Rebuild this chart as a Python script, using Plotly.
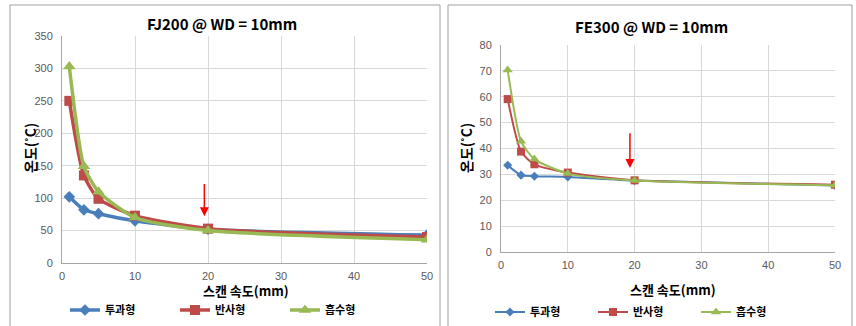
import plotly.graph_objects as go

speeds = [1, 3, 5, 10, 20, 50]
series_names = ["투과형", "반사형", "흡수형"]

fj200_trans = [102, 82, 76, 65, 52, 43]
fj200_refl = [250, 135, 99, 73, 53, 40]
fj200_abs = [303, 149, 110, 70, 50, 36]

fe300_trans = [33.5, 29.7, 29.3, 29.0, 27.6, 25.7]
fe300_refl = [59.1, 38.8, 33.9, 30.7, 27.7, 26.0]
fe300_abs = [70.3, 42.8, 35.9, 30.3, 27.6, 25.8]

colors = ["#4A7EBB", "#BE4B48", "#98B954"]
symbols = ["diamond", "square", "triangle-up"]

W, H = 856, 326
FONT = "Noto Sans CJK KR"

def px(x):
    return x / W

def py(y):
    return 1 - y / H

fig = go.Figure()

left = [fj200_trans, fj200_refl, fj200_abs]
right = [fe300_trans, fe300_refl, fe300_abs]
lsizes = [9, 10, 11]
rsizes = [7, 8, 9]
for i, name in enumerate(series_names):
    fig.add_trace(go.Scatter(
        x=speeds, y=left[i], name=name, mode="lines+markers",
        line=dict(color=colors[i], width=3.5, shape="spline", smoothing=0.6),
        marker=dict(symbol=symbols[i], size=lsizes[i], color=colors[i]),
        xaxis="x", yaxis="y", legend="legend"))
for i, name in enumerate(series_names):
    fig.add_trace(go.Scatter(
        x=speeds, y=right[i], name=name, mode="lines+markers",
        line=dict(color=colors[i], width=2, shape="spline", smoothing=0.6),
        marker=dict(symbol=symbols[i], size=rsizes[i], color=colors[i]),
        xaxis="x2", yaxis="y2", legend="legend2"))

grid = "#D9D9D9"
axfont = dict(family="Liberation Sans", size=11, color="#595959")
common_x = dict(range=[0, 50], dtick=10, showgrid=True, gridcolor=grid, gridwidth=1,
                showline=True, linecolor="#A6A6A6", zeroline=False, ticks="",
                tickfont=axfont, fixedrange=True, ticklabelstandoff=3)
common_y = dict(showgrid=True, gridcolor=grid, gridwidth=1, showline=True,
                linecolor="#A6A6A6", zeroline=False, ticks="", tickfont=axfont,
                fixedrange=True, ticklabelstandoff=6)

fig.update_layout(
    width=W, height=H, margin=dict(l=0, r=0, t=0, b=0, autoexpand=False),
    paper_bgcolor="white", plot_bgcolor="white",
    font=dict(family=FONT),
    xaxis=dict(domain=[px(62), px(427)], anchor="y", **common_x),
    yaxis=dict(domain=[py(263), py(36)], anchor="x", range=[0, 350], dtick=50, **common_y),
    xaxis2=dict(domain=[px(501), px(835)], anchor="y2", **common_x),
    yaxis2=dict(domain=[py(252), py(45)], anchor="x2", range=[0, 80], dtick=10, **common_y),
    legend=dict(orientation="h", x=px(65), y=py(310), xanchor="left", yanchor="middle",
                font=dict(family=FONT, size=11, color="#000000", weight="bold"),
                entrywidth=65, itemwidth=30, bgcolor="rgba(0,0,0,0)"),
    legend2=dict(orientation="h", x=px(490), y=py(312), xanchor="left", yanchor="middle",
                 font=dict(family=FONT, size=11, color="#000000", weight="bold"),
                 entrywidth=58, itemwidth=30, bgcolor="rgba(0,0,0,0)"),
    showlegend=True,
)

# chart borders
fig.add_shape(type="rect", xref="paper", yref="paper", x0=px(10), x1=px(440),
              y0=py(330), y1=py(5), line=dict(color="#A0A0A0", width=1))
fig.add_shape(type="rect", xref="paper", yref="paper", x0=px(448), x1=px(852),
              y0=py(330), y1=py(5), line=dict(color="#A0A0A0", width=1))

def label(text, x, y, size, angle=0):
    fig.add_annotation(text=text, xref="paper", yref="paper", x=px(x), y=py(y),
                       xanchor="center", yanchor="middle", textangle=angle,
                       showarrow=False,
                       font=dict(family=FONT, size=size, color="#000", weight="bold"))

label("FJ200 @ WD = 10mm", 222, 23, 15)
label("FE300 @ WD = 10mm", 651, 27, 15)
label("스캔 속도(mm)", 246, 290, 13)
label("스캔 속도(mm)", 673, 289, 13)
label("온도(˚C)", 30, 148, 14, -90)
label("온도(˚C)", 466, 148, 14, -90)

# red arrows
fig.add_annotation(x=19.5, y=72, ax=19.5, ay=124, xref="x", yref="y", axref="x", ayref="y",
                   text="", showarrow=True, arrowhead=2, arrowsize=1.2, arrowwidth=1.5,
                   arrowcolor="#FF0000")
fig.add_annotation(x=19.3, y=32.5, ax=19.3, ay=46.5, xref="x2", yref="y2", axref="x2", ayref="y2",
                   text="", showarrow=True, arrowhead=2, arrowsize=1.2, arrowwidth=1.5,
                   arrowcolor="#FF0000")

fig.write_html("out.html", config={"displayModeBar": False},
               post_script="document.body.style.margin='0px';")
